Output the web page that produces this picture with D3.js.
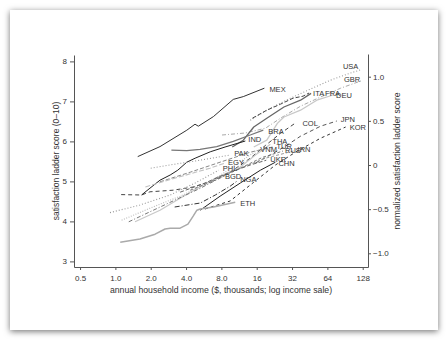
<!DOCTYPE html>
<html><head><meta charset="utf-8">
<script src="https://cdn.jsdelivr.net/npm/d3@7"></script>
<style>
html,body{margin:0;padding:0;background:#fff;}
svg{display:block;font-family:"Liberation Sans",Arial,Helvetica,sans-serif;}
</style></head><body>
<svg id="chart" width="448" height="340"></svg>
<script>
// ---------- tick labels ----------
const xTicks = [0.5, 1, 2, 4, 8, 16, 32, 64, 128];
const xTickLabels = ["0.5", "1.0", "2.0", "4.0", "8.0", "16", "32", "64", "128"];
const yTicks = [3, 4, 5, 6, 7, 8];
const yRightTicks = [-1, -0.5, 0, 0.5, 1];
const yRightTickLabels = ["\u22121.0", "\u22120.5", "0", "0.5", "1.0"];

// ---------- series: [income ($k), ladder score] ----------
const USA = [[14.1,6.53],[20.9,6.83],[31,7.08],[46,7.31],[68,7.53],[101,7.71],[126,7.80]];
const GBR = [[8.1,6.16],[12.8,6.21],[19,6.33],[25.5,6.58],[37.8,6.88],[56,7.11],[83,7.33],[126,7.52]];
const ITA = [[9.9,5.86],[12.3,6.03],[15.1,6.36],[19.5,6.58],[27.3,6.86],[37.8,7.03],[46.5,7.2]];
const FRA = [[14.7,6.58],[19.5,6.78],[25.5,6.93],[32.6,7.08],[39.7,7.13],[44.7,7.21]];
const DEU = [[15.1,5.86],[19.5,6.03],[24,6.45],[27.3,6.61],[37.8,6.78],[52,7.03],[71.6,7.16]];
const MEX = [[1.55,5.62],[2.4,5.87],[4.06,6.28],[4.77,6.43],[5.09,6.38],[6.84,6.62],[10.1,7.05],[12.3,7.12],[18.6,7.33]];
const COL = [[1.12,4.67],[1.67,4.66],[1.97,4.74],[3.1,4.78],[4.6,4.86],[6.4,4.99],[9.5,5.23],[14.1,5.58],[19,5.9],[25.5,6.2],[34.2,6.46]];
const JPN = [[15.6,5.46],[20.9,5.66],[28.1,5.88],[37.8,6.13],[56,6.38],[77,6.51]];
const KOR = [[5.8,4.31],[9.5,4.51],[15.1,4.98],[23.1,5.41],[34.2,5.73],[56,6.08],[91.6,6.36]];
const BRA = [[3.0,5.78],[4.06,5.77],[5.26,5.8],[7.3,5.87],[10.1,6.0],[14.1,6.16],[18.2,6.28]];
const IND = [[1.67,4.66],[1.97,4.83],[2.4,5.03],[2.93,5.16],[3.4,5.28],[4.06,5.48],[4.78,5.58],[6.43,5.74],[8.6,5.86],[12.8,6.01]];
const THA = [[1.47,3.99],[2.4,4.28],[4.06,4.68],[7.1,5.08],[11.6,5.36],[15.6,5.66],[20.9,5.93]];
const TUR = [[2.4,4.99],[4.34,5.23],[7.8,5.48],[14.1,5.73],[21.8,5.86]];
const VNM = [[1.13,4.03],[1.97,4.33],[3.56,4.63],[6.43,4.98],[10.5,5.41],[16.2,5.78]];
const RUS = [[4.34,4.78],[7.1,5.03],[11.6,5.33],[17.9,5.6],[26.8,5.76]];
const IRN = [[7.1,5.08],[11.6,5.33],[19,5.58],[33,5.76]];
const PAK = [[2.0,5.33],[3.2,5.43],[5.3,5.53],[9.5,5.66]];
const EGY = [[1.8,4.86],[3.2,5.08],[6.4,5.33],[8.6,5.46]];
const UKR = [[3.56,4.73],[5.8,4.96],[9.5,5.23],[14.1,5.41],[19.3,5.53]];
const CHN = [[5.28,4.28],[7.8,4.63],[11.6,4.96],[17.2,5.28],[23.1,5.48]];
const PHL = [[0.9,4.22],[1.62,4.41],[2.93,4.66],[4.78,4.96],[7.6,5.28]];
const BGD = [[1.3,3.99],[1.97,4.24],[3.2,4.53],[5.3,4.83],[8.1,5.11]];
const NGA = [[3.2,4.36],[5.3,4.46],[7.1,4.66],[9.5,4.88],[10.9,5.01]];
const ETH = [[1.1,3.48],[1.62,3.56],[2.18,3.68],[2.65,3.81],[2.93,3.83],[3.56,3.83],[4.15,3.93],[4.6,4.13],[4.95,4.28],[5.28,4.31],[6.85,4.36],[10.5,4.48]];

const seriesData = {USA, GBR, ITA, FRA, DEU, MEX, COL, JPN, KOR, BRA, IND, THA, TUR, VNM, RUS, IRN, PAK, EGY, UKR, CHN, PHL, BGD, NGA, ETH};

// ---------- styles (colour, dash, width, label offset px) ----------
const styles = {
  USA: {c:"#999", d:"1,2", w:1.1, dx:-19, dy:-3},
  GBR: {c:"#aaa", d:"4,2,1,2", w:1, dx:-18, dy:-1.5},
  ITA: {c:"#666", d:null, w:1.3, dx:2, dy:0},
  FRA: {c:"#444", d:"4,2", w:1, dx:16, dy:0},
  DEU: {c:"#c8c8c8", d:null, w:1.3, dx:3, dy:0},
  MEX: {c:"#333", d:null, w:1, dx:5, dy:1.5},
  COL: {c:"#444", d:"4,3", w:1, dx:7, dy:0},
  JPN: {c:"#555", d:"4,3", w:1, dx:4, dy:-2},
  KOR: {c:"#333", d:"3,3", w:1, dx:4, dy:0},
  BRA: {c:"#777", d:null, w:1.3, dx:5, dy:1.5},
  IND: {c:"#222", d:null, w:1, dx:3, dy:-2},
  THA: {c:"#c8c8c8", d:null, w:1.2, dx:2, dy:-2.5},
  TUR: {c:"#888", d:"4,2", w:1, dx:4, dy:-0.5},
  VNM: {c:"#bbb", d:"1,1.5", w:1.1, dx:3, dy:-1},
  RUS: {c:"#777", d:"3,2", w:1, dx:2, dy:-1},
  IRN: {c:"#999", d:"3,2", w:1, dx:4, dy:-2},
  PAK: {c:"#999", d:"1,2", w:1.1, dx:4, dy:-2},
  EGY: {c:"#c0c0c0", d:"5,2", w:1.1, dx:3, dy:-1},
  UKR: {c:"#666", d:"4,2", w:1, dx:4, dy:-0.5},
  CHN: {c:"#222", d:null, w:1, dx:3, dy:1.5},
  PHL: {c:"#999", d:"1,2", w:1.1, dx:4, dy:-2},
  BGD: {c:"#777", d:"4,2,1,2", w:1, dx:3, dy:-1},
  NGA: {c:"#333", d:"5,2,1,2", w:1, dx:3, dy:-2},
  ETH: {c:"#aaa", d:null, w:1.5, dx:5, dy:1}
};

const svg = d3.select("#chart");
const defs = svg.append("defs");
const f = defs.append("filter").attr("id","shadow").attr("x","-10%").attr("y","-10%").attr("width","120%").attr("height","120%");
f.append("feDropShadow").attr("dx",0).attr("dy",1.5).attr("stdDeviation",3).attr("flood-color","#000").attr("flood-opacity",0.55);

svg.append("rect").attr("x",10).attr("y",10).attr("width",428).attr("height",320)
  .attr("fill","#fff").attr("filter","url(#shadow)");

const x = d3.scaleLog().base(2).domain([0.444, 142]).range([74, 368]);
const y = d3.scaleLinear().domain([2.86, 8.16]).range([267, 55]);
const yR = d3.scaleLinear().domain([-1.155, 1.257]).range([267, 54]);

const axisColor = "#555", textColor = "#333";

const gx = svg.append("g").attr("transform","translate(0,267)")
  .call(d3.axisBottom(x).tickValues(xTicks).tickFormat((d,i)=>xTickLabels[i]).tickSize(3).tickSizeOuter(0).tickPadding(5));
const gy = svg.append("g").attr("transform","translate(74,0)")
  .call(d3.axisLeft(y).tickValues(yTicks).tickFormat(d3.format("d")).tickSize(4).tickSizeOuter(0).tickPadding(3));
const gr = svg.append("g").attr("transform","translate(368,0)")
  .call(d3.axisRight(yR).tickValues(yRightTicks).tickFormat((d,i)=>yRightTickLabels[i]).tickSize(3).tickSizeOuter(0).tickPadding(2));

[gx, gy, gr].forEach(g => {
  g.select(".domain").attr("stroke", axisColor);
  g.selectAll(".tick line").attr("stroke", axisColor);
  g.selectAll(".tick text").attr("fill", textColor).attr("font-size", 8).attr("font-family", null);
});

svg.append("text").attr("x",221).attr("y",293).attr("text-anchor","middle")
  .attr("font-size",8.7).attr("fill",textColor).text("annual household income ($, thousands; log income sale)");
svg.append("text").attr("transform","translate(59,161) rotate(-90)").attr("text-anchor","middle")
  .attr("font-size",8.5).attr("fill",textColor).text("satisfaction ladder score (0\u201310)");
svg.append("text").attr("transform","translate(400,161) rotate(-90)").attr("text-anchor","middle")
  .attr("font-size",8.6).attr("fill",textColor).text("normalized satisfaction ladder score");

const line = d3.line().x(d => x(d[0])).y(d => y(d[1]));
const gl = svg.append("g");
Object.keys(seriesData).forEach(k => {
  const s = styles[k];
  gl.append("path").datum(seriesData[k]).attr("d", line)
    .attr("fill","none").attr("stroke", s.c).attr("stroke-width", s.w)
    .attr("stroke-dasharray", s.d).attr("stroke-linejoin","round");
});
const gt = svg.append("g");
Object.keys(seriesData).forEach(k => {
  const s = styles[k];
  const last = seriesData[k][seriesData[k].length - 1];
  gt.append("text").attr("x", x(last[0]) + s.dx).attr("y", y(last[1]) + s.dy)
    .attr("dy","0.35em").attr("font-size",7.5).attr("fill",textColor).text(k);
});
</script>
</body></html>
